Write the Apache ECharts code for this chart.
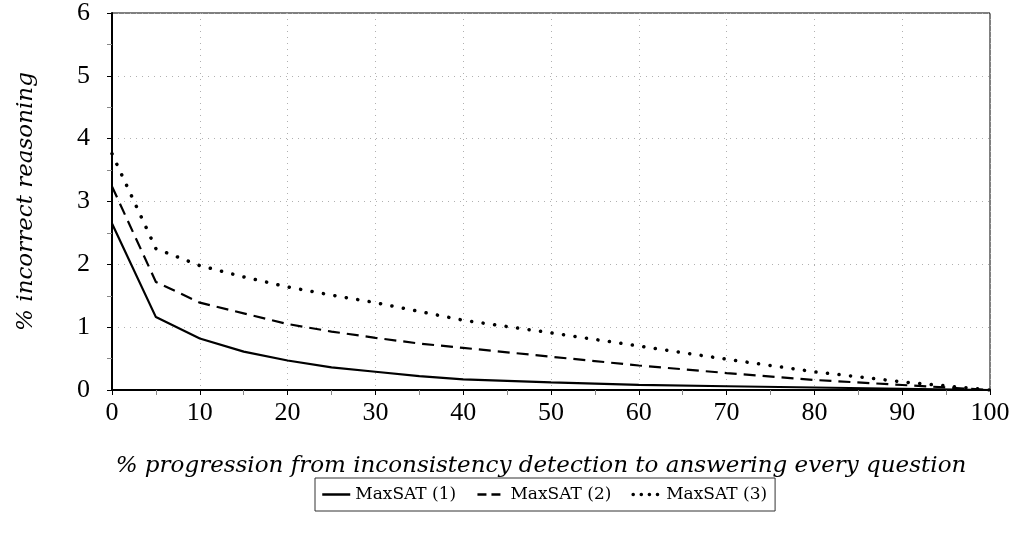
<!DOCTYPE html>
<html>
<head>
  <meta charset="UTF-8">
  <title>maxsat</title>
  <style>
    body{ margin:0; background:#fff; }
    #chart{ width:1015px; height:538px; }
  </style>
</head>
<body>
  <div id="chart"></div>
  <script src="https://cdn.jsdelivr.net/npm/echarts@6/dist/echarts.min.js"></script>
  <script>
    var xs = [0, 5, 10, 15, 20, 25, 30, 35, 40, 50, 60, 70, 80, 90, 100]
    var maxsat1 = [2.65, 1.16, 0.82, 0.61, 0.47, 0.36, 0.29, 0.22, 0.17, 0.12, 0.08, 0.06, 0.04, 0.02, 0]
    var maxsat2 = [3.24, 1.72, 1.39, 1.22, 1.05, 0.93, 0.83, 0.74, 0.67, 0.53, 0.39, 0.27, 0.16, 0.08, 0]
    var maxsat3 = [3.76, 2.25, 1.98, 1.80, 1.64, 1.51, 1.39, 1.25, 1.11, 0.91, 0.70, 0.49, 0.29, 0.13, 0]
    var names = ['MaxSAT (1)', 'MaxSAT (2)', 'MaxSAT (3)']

    var tickFont = 'Liberation Serif'
    var textFont = 'DejaVu Serif'
    function pairs(ys){ return xs.map(function(x, i){ return [x, ys[i]] }) }

    var solid = { color:'#000', width:2.2 }
    var dashed = { color:'#000', width:2.2, type:[12,7] }
    var dotted = { color:'#000', width:3.5, type:[0.1,11.5], cap:'round' }

    var chart = echarts.init(document.getElementById('chart'))
    var split = { show:true, lineStyle:{ color:'#b0b0b0', type:[1,5], width:1 } }
    var option = {
      animation:false,
      grid:{ left:112, right:25, top:13, bottom:148, show:true, borderColor:'#000', borderWidth:1 },
      legend:{
        data:[
          { name:names[0], lineStyle:{ color:'#000', width:2.5 } },
          { name:names[1], lineStyle:{ color:'#000', width:2.5, type:[9,5] } },
          { name:names[2], lineStyle:{ color:'#000', width:3.5, type:[0.1,8], cap:'round' } }
        ],
        left:315, top:478,
        padding:[8,8,8,6],
        itemGap:20,
        itemWidth:28, itemHeight:14,
        borderColor:'#333', borderWidth:1,
        itemStyle:{ opacity:0 },
        textStyle:{ fontFamily:textFont, fontSize:17, color:'#000' }
      },
      xAxis:{
        type:'value', min:0, max:100, interval:10,
        name:'% progression from inconsistency detection to answering every question',
        nameLocation:'middle', nameGap:65,
        nameTextStyle:{ fontFamily:textFont, fontStyle:'italic', fontSize:23, color:'#000', padding:[0,20,0,0] },
        axisLine:{ show:true, lineStyle:{ color:'#000', width:2 } },
        axisTick:{ show:true, length:5, lineStyle:{ color:'#000' } },
        minorTick:{ show:true, splitNumber:2, length:5, lineStyle:{ color:'#888' } },
        axisLabel:{ fontFamily:tickFont, fontSize:26, color:'#000', margin:10 },
        splitLine:split
      },
      yAxis:{
        type:'value', min:0, max:6, interval:1,
        name:'% incorrect reasoning',
        nameLocation:'middle', nameGap:74,
        nameTextStyle:{ fontFamily:textFont, fontStyle:'italic', fontSize:23, color:'#000' },
        axisLine:{ show:true, lineStyle:{ color:'#000', width:2 } },
        axisTick:{ show:true, length:5, lineStyle:{ color:'#000' } },
        minorTick:{ show:true, splitNumber:2, length:5, lineStyle:{ color:'#888' } },
        axisLabel:{ fontFamily:tickFont, fontSize:26, color:'#000', margin:22 },
        splitLine:split
      },
      series:[
        { name:names[0], type:'line', data:pairs(maxsat1), symbol:'none', lineStyle:solid, itemStyle:{ color:'#000' } },
        { name:names[1], type:'line', data:pairs(maxsat2), symbol:'none', lineStyle:dashed, itemStyle:{ color:'#000' } },
        { name:names[2], type:'line', data:pairs(maxsat3), symbol:'none', lineStyle:dotted, itemStyle:{ color:'#000' } }
      ]
    }
    chart.setOption(option)
  </script>
</body>
</html>
